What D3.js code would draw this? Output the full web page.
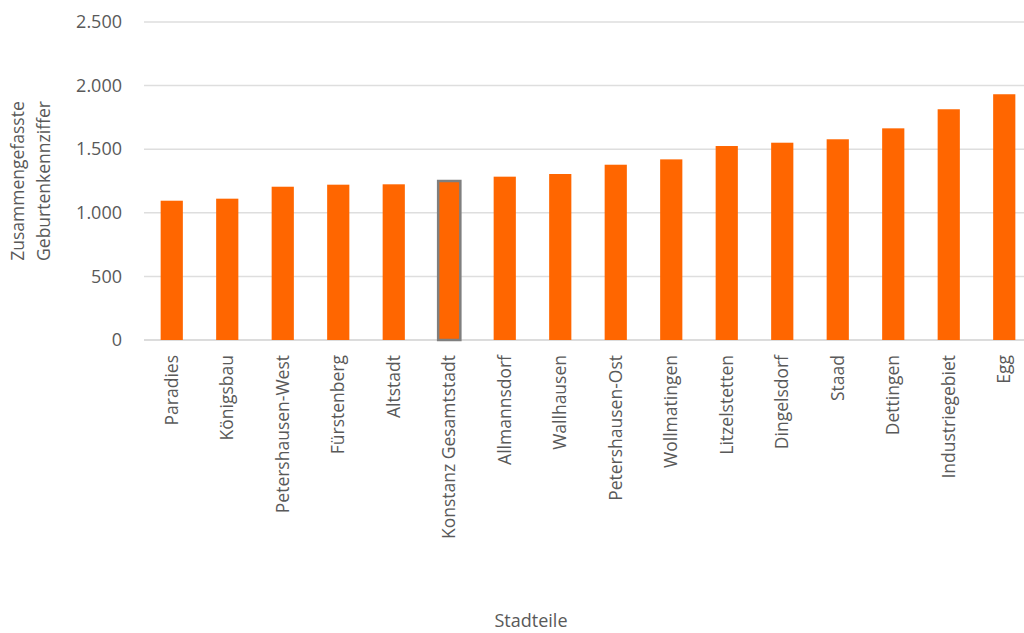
<!DOCTYPE html>
<html>
<head>
<meta charset="utf-8">
<script src="https://cdn.jsdelivr.net/npm/d3@7"></script>
<style>
  html, body { margin: 0; padding: 0; background: #fff; }
  svg { display: block; font-family: "Open Sans", "Noto Sans", sans-serif; }
</style>
</head>
<body>
<svg id="chart" width="1024" height="633"></svg>
<script>
// Stadtteile, sortiert nach zusammengefasster Geburtenkennziffer
const districts = [
  "Paradies", "Königsbau", "Petershausen-West", "Fürstenberg", "Altstadt",
  "Konstanz Gesamtstadt", "Allmannsdorf", "Wallhausen", "Petershausen-Ost",
  "Wollmatingen", "Litzelstetten", "Dingelsdorf", "Staad", "Dettingen",
  "Industriegebiet", "Egg"
];
const rates = [
  1095, 1111, 1205, 1221, 1224,
  1250, 1284, 1305, 1378,
  1420, 1525, 1551, 1578, 1664,
  1814, 1932
];
const yTicks = [0, 500, 1000, 1500, 2000, 2500];
const highlighted = "Konstanz Gesamtstadt";

const svg = d3.select("#chart");
const margin = { left: 144, right: -8, top: 22, bottom: 293 };
const W = 1024, H = 633;
const fs = 17.5;

const x = d3.scaleBand()
  .domain(districts)
  .range([margin.left, W - margin.right])
  .paddingInner(0.6)
  .paddingOuter(0.3);

const y = d3.scaleLinear()
  .domain([0, 2500])
  .range([H - margin.bottom, margin.top]);

const grey = "#595959";

// Gitternetzlinien
svg.append("g")
  .selectAll("line")
  .data(yTicks)
  .join("line")
  .attr("x1", margin.left)
  .attr("x2", W - margin.right)
  .attr("y1", d => y(d))
  .attr("y2", d => y(d))
  .attr("stroke", d => d === 0 ? "#d0d0d0" : "#dedede")
  .attr("stroke-width", 1.5);

// Y-Achse (Beschriftung mit deutschem Tausendertrennzeichen)
const de = d3.formatLocale({ decimal: ",", thousands: ".", grouping: [3], currency: ["", " €"] });
const yAxis = d3.axisLeft(y).tickValues(yTicks).tickFormat(de.format(",")).tickSize(0).tickPadding(0);
const gy = svg.append("g")
  .attr("transform", `translate(122,0)`)
  .call(yAxis);
gy.select(".domain").remove();
gy.selectAll("text")
  .attr("fill", grey)
  .attr("font-size", 18)
  .attr("font-family", "Open Sans, sans-serif");

// Balken
svg.append("g")
  .selectAll("rect")
  .data(districts.map((d, i) => ({ name: d, value: rates[i] })))
  .join("rect")
  .attr("x", d => x(d.name))
  .attr("width", x.bandwidth())
  .attr("y", d => y(d.value))
  .attr("height", d => y(0) - y(d.value))
  .attr("fill", "#ff6600")
  .attr("stroke", d => d.name === highlighted ? "#7f7f7f" : "none")
  .attr("stroke-width", 2.5);

// X-Achse mit senkrechten Beschriftungen
const xAxis = d3.axisBottom(x).tickSize(0).tickPadding(0);
const gx = svg.append("g")
  .attr("transform", `translate(0,${y(0)})`)
  .call(xAxis);
gx.select(".domain").remove();
gx.selectAll("text")
  .attr("fill", grey)
  .attr("font-size", fs)
  .attr("font-family", "Open Sans, sans-serif")
  .attr("text-anchor", "end")
  .attr("transform", "rotate(-90)")
  .attr("x", -15)
  .attr("y", 0)
  .attr("dy", "0.35em");

// Achsentitel
const yTitle = svg.append("text")
  .attr("transform", `translate(0,${(y(0) + y(2500)) / 2}) rotate(-90)`)
  .attr("text-anchor", "middle")
  .attr("fill", grey)
  .attr("font-size", fs);
yTitle.append("tspan").attr("x", 0).attr("y", 24).text("Zusammengefasste");
yTitle.append("tspan").attr("x", 0).attr("y", 50).text("Geburtenkennziffer");

svg.append("text")
  .attr("x", 531)
  .attr("y", 627)
  .attr("text-anchor", "middle")
  .attr("fill", grey)
  .attr("font-size", 18)
  .text("Stadteile");
</script>
</body>
</html>
